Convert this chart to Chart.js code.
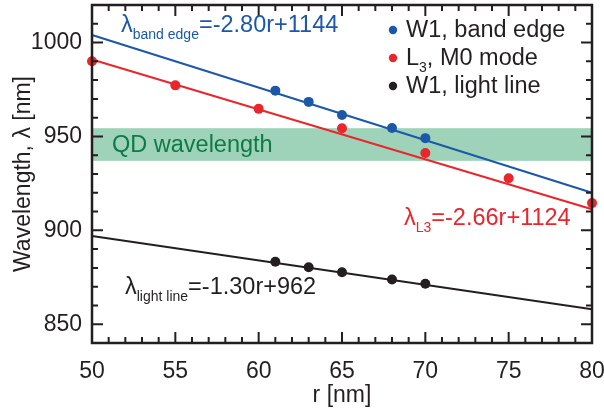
<!DOCTYPE html>
<html>
<head>
<meta charset="utf-8">
<script src="https://cdn.jsdelivr.net/npm/chart.js@4.4.0/dist/chart.umd.min.js"></script>
<style>
  html, body { margin: 0; padding: 0; background: #fff; }
  #wrap { width: 604px; height: 409px; }
</style>
</head>
<body>
<div id="wrap"><canvas id="c" width="604" height="409"></canvas></div>
<script>
// data
var bandEdgeR = [61, 63, 65, 68, 70];
var bandEdgeWl = [974.4, 968.4, 961.4, 954.5, 949.1];
var l3R = [50, 55, 60, 65, 70, 75, 80];
var l3Wl = [990, 977.2, 964.7, 954.4, 941.2, 927.7, 914.5];
var lightR = [61, 63, 65, 68, 70];
var lightWl = [883.3, 880.3, 877.7, 873.8, 871.6];

// fitted lines, end points at r = 50 and r = 80
var fitR = [50, 80];
var bandEdgeFit = [1004, 920];
var l3Fit = [991, 911.2];
var lightFit = [897, 858];

var qdBand = [937, 954.4];

var xTicks = [50, 55, 60, 65, 70, 75, 80];
var yTicks = [850, 900, 950, 1000];

var legendLabels = [
    [{t: 'W1, band edge'}],
    [{t: 'L'}, {t: '3', sub: true}, {t: ', M0 mode'}],
    [{t: 'W1, light line'}]
];

var BLUE = '#1c58a8';
var RED = '#e8262d';
var BLACK = '#231f20';
var GREEN_BAND = '#9fd3b9';
var GREEN_TEXT = '#0d7a48';
var FONT = '"Liberation Sans", Arial, sans-serif';
var TXT = 23.5;

function pts(xs, ys){
    var out = [];
    for(var i = 0; i < xs.length; i++){
        out.push({x: xs[i], y: ys[i]});
    }
    return out;
}

// text with subscripts
function richText(ctx, parts, x, y, color, size){
    ctx.fillStyle = color;
    ctx.textBaseline = 'alphabetic';
    ctx.textAlign = 'left';
    for(var i = 0; i < parts.length; i++){
        var p = parts[i];
        if(p.sub){
            ctx.font = '14px ' + FONT;
            ctx.fillText(p.t, x, y + 7);
        } else {
            ctx.font = size + 'px ' + FONT;
            ctx.fillText(p.t, x, y);
        }
        x += ctx.measureText(p.t).width;
    }
}

var decorPlugin = {
    id: 'decor',
    beforeDatasetsDraw: function(chart){
        var ctx = chart.ctx;
        var a = chart.chartArea;
        var ys = chart.scales.y;
        var top = ys.getPixelForValue(qdBand[1]);
        var bot = ys.getPixelForValue(qdBand[0]);
        ctx.save();
        ctx.fillStyle = GREEN_BAND;
        ctx.fillRect(a.left, top, a.right - a.left, bot - top);
        ctx.font = TXT + 'px ' + FONT;
        ctx.fillStyle = GREEN_TEXT;
        ctx.textBaseline = 'middle';
        ctx.fillText('QD wavelength', a.left + 20, (top + bot) / 2 + 1);
        ctx.restore();
    },
    afterDatasetsDraw: function(chart){
        var ctx = chart.ctx;
        var a = chart.chartArea;
        var xs = chart.scales.x;
        var ys = chart.scales.y;
        ctx.save();

        // frame
        ctx.strokeStyle = BLACK;
        ctx.lineWidth = 2.5;
        ctx.strokeRect(a.left, a.top, a.right - a.left, a.bottom - a.top);

        // inward ticks on all four sides
        ctx.lineWidth = 2;
        ctx.beginPath();
        for(var r = 50; r <= 80; r++){
            var px = xs.getPixelForValue(r);
            var len = (r % 5 === 0) ? 11 : 6;
            ctx.moveTo(px, a.bottom); ctx.lineTo(px, a.bottom - len);
            ctx.moveTo(px, a.top); ctx.lineTo(px, a.top + len);
        }
        for(var w = 840; w <= 1020; w += 10){
            var py = ys.getPixelForValue(w);
            var l2 = (w % 50 === 0) ? 11 : 6;
            ctx.moveTo(a.left, py); ctx.lineTo(a.left + l2, py);
            ctx.moveTo(a.right, py); ctx.lineTo(a.right - l2, py);
        }
        ctx.stroke();

        // fit equations
        richText(ctx, [{t: 'λ'}, {t: 'band edge', sub: true}, {t: '=-2.80r+1144'}], 121, 32, BLUE, TXT);
        richText(ctx, [{t: 'λ'}, {t: 'L3', sub: true}, {t: '=-2.66r+1124'}], 404, 225, RED, TXT);
        richText(ctx, [{t: 'λ'}, {t: 'light line', sub: true}, {t: '=-1.30r+962'}], 125, 294, BLACK, TXT);

        // legend
        var colors = [BLUE, RED, BLACK];
        for(var i = 0; i < legendLabels.length; i++){
            var base = 37 + i * 28;
            ctx.beginPath();
            ctx.fillStyle = colors[i];
            ctx.arc(393, base - 7, 4.2, 0, Math.PI * 2);
            ctx.fill();
            richText(ctx, legendLabels[i], 406, base, BLACK, TXT);
        }
        ctx.restore();
    }
};

function lineSet(xs, ys, color){
    return {
        data: pts(xs, ys),
        showLine: true,
        borderColor: color,
        borderWidth: 2,
        pointRadius: 0,
        fill: false,
        order: 2
    };
}

function pointSet(xs, ys, color){
    return {
        data: pts(xs, ys),
        showLine: false,
        backgroundColor: color,
        borderColor: color,
        pointRadius: 5,
        pointBorderWidth: 0,
        order: 1
    };
}

function noPad(scale){
    scale.paddingTop = 0;
    scale.paddingBottom = 0;
    scale.paddingLeft = 0;
    scale.paddingRight = 0;
}

var chart = new Chart(document.getElementById('c'), {
    type: 'scatter',
    data: {
        datasets: [
            lineSet(fitR, lightFit, BLACK),
            lineSet(fitR, l3Fit, RED),
            lineSet(fitR, bandEdgeFit, BLUE),
            pointSet(lightR, lightWl, BLACK),
            pointSet(l3R, l3Wl, RED),
            pointSet(bandEdgeR, bandEdgeWl, BLUE)
        ]
    },
    options: {
        responsive: false,
        animation: false,
        clip: false,
        layout: { padding: { top: 2, right: 12, left: 0, bottom: 0 } },
        plugins: {
            legend: { display: false },
            tooltip: { enabled: false }
        },
        scales: {
            x: {
                type: 'linear',
                min: 50,
                max: 80,
                afterBuildTicks: function(scale){
                    scale.ticks = xTicks.map(function(v){ return {value: v}; });
                },
                afterFit: function(scale){ scale.height = 66; noPad(scale); },
                grid: { display: false, drawTicks: false },
                border: { display: false },
                ticks: {
                    color: BLACK,
                    padding: 15,
                    maxRotation: 0,
                    font: { family: FONT, size: 23 },
                    callback: function(v){ return String(v); }
                },
                title: {
                    display: true,
                    text: 'r [nm]',
                    color: BLACK,
                    padding: { top: 0, bottom: 0 },
                    font: { family: FONT, size: 23 }
                }
            },
            y: {
                type: 'linear',
                min: 840,
                max: 1020,
                afterBuildTicks: function(scale){
                    scale.ticks = yTicks.map(function(v){ return {value: v}; });
                },
                afterFit: function(scale){ scale.width = 92; noPad(scale); },
                grid: { display: false, drawTicks: false },
                border: { display: false },
                ticks: {
                    color: BLACK,
                    padding: 10,
                    font: { family: FONT, size: 23 },
                    callback: function(v){ return String(v); }
                },
                title: {
                    display: true,
                    text: 'Wavelength, λ [nm]',
                    color: BLACK,
                    padding: { top: 10, bottom: 0 },
                    font: { family: FONT, size: 23 }
                }
            }
        }
    },
    plugins: [decorPlugin]
});
</script>
</body>
</html>
